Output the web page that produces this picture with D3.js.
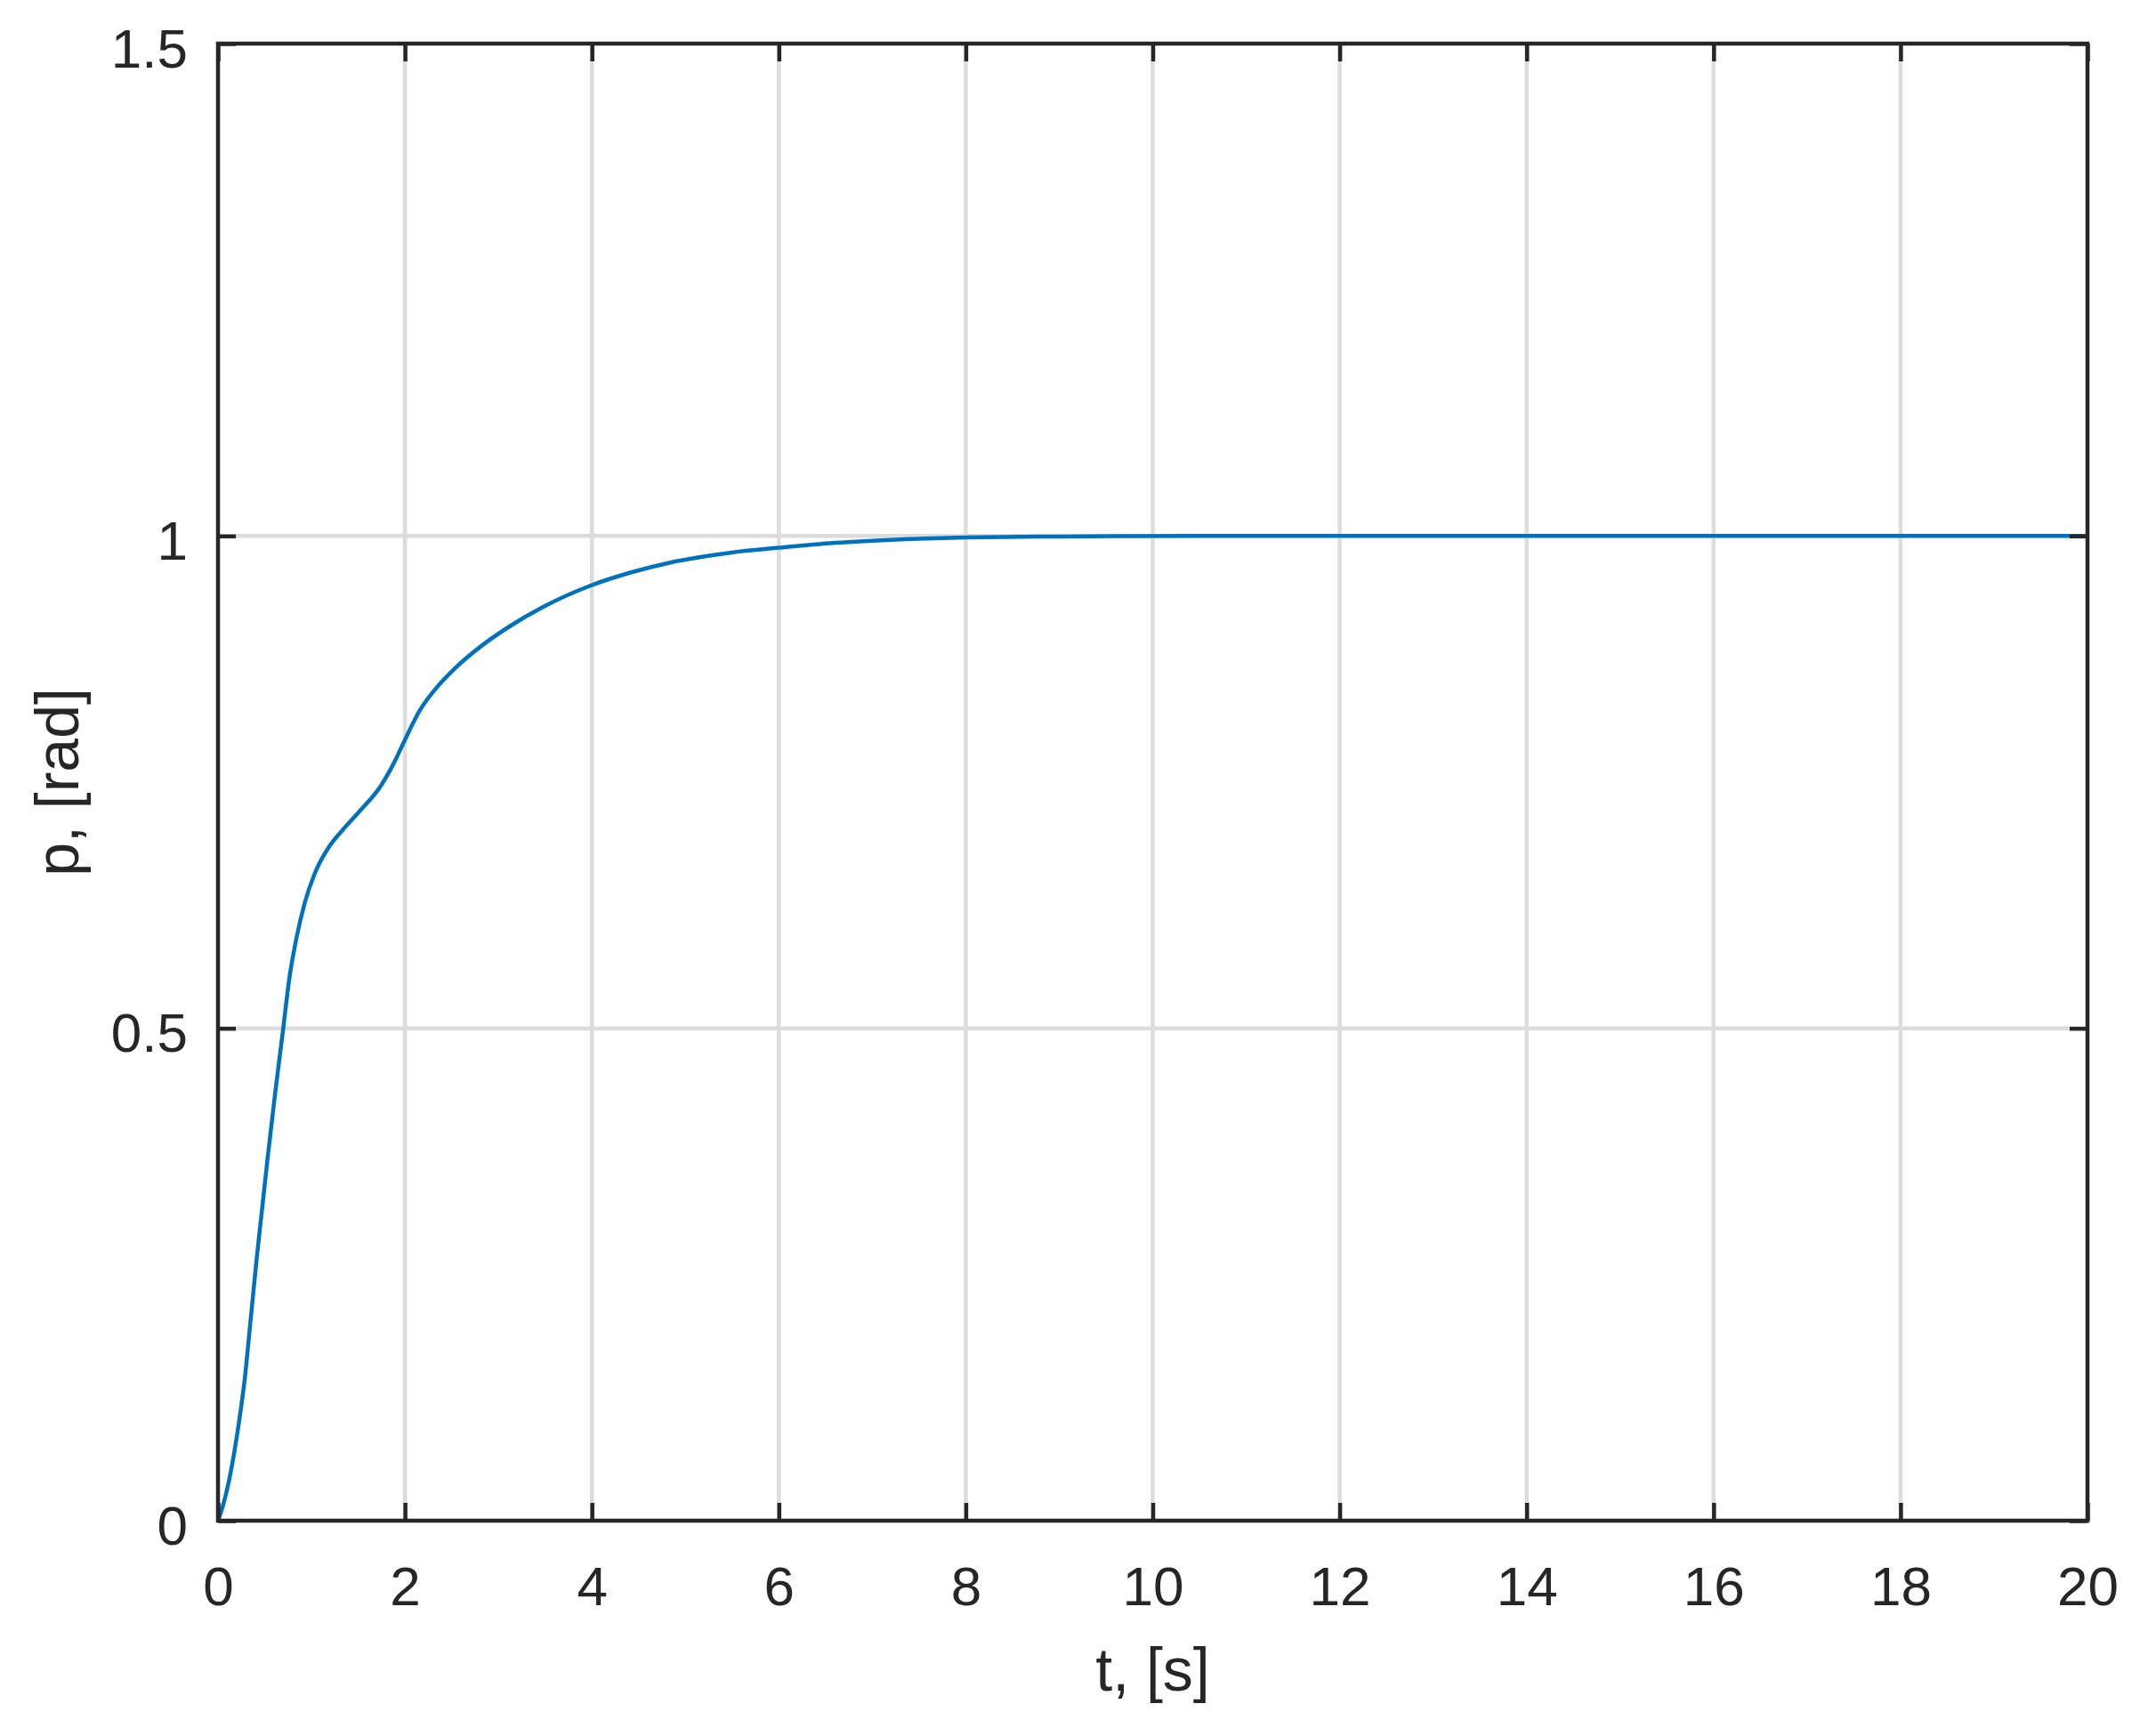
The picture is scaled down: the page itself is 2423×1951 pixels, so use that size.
<!DOCTYPE html>
<html>
<head>
<meta charset="utf-8">
<script src="https://cdn.jsdelivr.net/npm/d3@7"></script>
<style>
  html, body { margin: 0; padding: 0; background: #fff; }
  text { font-family: "Liberation Sans", Arial, sans-serif; fill: #262626; }
</style>
</head>
<body>
<div id="chart"></div>
<script>
const width = 2423;
const height = 1951;

// values
const tValues = [0, 0.03, 0.127, 0.222, 0.286, 0.35, 0.417, 0.533, 0.61, 0.698, 0.762, 0.84, 0.93, 1.03, 1.2, 1.33, 1.52, 1.74, 1.885, 2.0, 2.16, 2.33, 2.54, 2.8, 3.1, 3.48, 3.97, 4.42, 4.84, 5.48, 6.0, 6.6, 7.3, 8.0, 8.8, 9.6, 10.5, 12, 14, 16, 18, 20];
const pValues = [0, 0.008, 0.045, 0.0985, 0.144, 0.205, 0.269, 0.37, 0.433, 0.5, 0.55, 0.592, 0.628, 0.656, 0.686, 0.701, 0.721, 0.746, 0.77, 0.793, 0.823, 0.845, 0.866, 0.887, 0.907, 0.928, 0.949, 0.963, 0.973, 0.983, 0.988, 0.993, 0.9965, 0.9985, 0.9993, 0.9998, 1, 1, 1, 1, 1, 1];

const xTicks = [0, 2, 4, 6, 8, 10, 12, 14, 16, 18, 20];
const yTicks = [0, 0.5, 1, 1.5];
const xLabel = "t, [s]";
const yLabel = "p, [rad]";

const margin = {left: 245, right: 2423 - 2346, top: 49, bottom: 1951 - 1709};
const x = d3.scaleLinear().domain([0, 20]).range([margin.left, width - margin.right]);
const y = d3.scaleLinear().domain([0, 1.5]).range([height - margin.bottom, margin.top]);

const svg = d3.select("#chart")
    .append("svg")
    .attr("width", width)
    .attr("height", height)
    .attr("viewBox", [0, 0, width, height]);

svg.append("rect").attr("width", width).attr("height", height).attr("fill", "#fff");

// grid
const grid = svg.append("g")
    .attr("stroke", "#dcdcdc")
    .attr("stroke-width", 4.5);
grid.selectAll("line.gx")
    .data(xTicks.slice(1, -1))
    .join("line")
    .attr("class", "gx")
    .attr("x1", d => x(d)).attr("x2", d => x(d))
    .attr("y1", y(0)).attr("y2", y(1.5));
grid.selectAll("line.gy")
    .data(yTicks.slice(1, -1))
    .join("line")
    .attr("class", "gy")
    .attr("y1", d => y(d)).attr("y2", d => y(d))
    .attr("x1", x(0)).attr("x2", x(20));

// curve
const line = d3.line()
    .x((d, i) => x(tValues[i]))
    .y(d => y(d))
    .curve(d3.curveMonotoneX);

svg.append("path")
    .datum(pValues)
    .attr("fill", "none")
    .attr("stroke", "#0072BD")
    .attr("stroke-width", 4.5)
    .attr("stroke-linejoin", "round")
    .attr("d", line);

// axes: ticks inside on all four sides, labels outside bottom/left
const tickLen = 20;
const axisColor = "#262626";

const axBottom = svg.append("g")
    .attr("transform", `translate(0,${y(0)})`)
    .call(d3.axisBottom(x).tickValues(xTicks).tickSizeInner(-tickLen).tickSizeOuter(0).tickPadding(tickLen + 31).tickFormat(d3.format("d")));
const axTop = svg.append("g")
    .attr("transform", `translate(0,${y(1.5)})`)
    .call(d3.axisTop(x).tickValues(xTicks).tickSizeInner(-tickLen).tickSizeOuter(0).tickFormat(""));
const axLeft = svg.append("g")
    .attr("transform", `translate(${x(0)},0)`)
    .call(d3.axisLeft(y).tickValues(yTicks).tickSizeInner(-tickLen).tickSizeOuter(0).tickPadding(tickLen + 14).tickFormat(d => d));
const axRight = svg.append("g")
    .attr("transform", `translate(${x(20)},0)`)
    .call(d3.axisRight(y).tickValues(yTicks).tickSizeInner(-tickLen).tickSizeOuter(0).tickFormat(""));

[axBottom, axTop, axLeft, axRight].forEach(g => {
    g.select(".domain").remove();
    g.selectAll(".tick line").attr("stroke", axisColor).attr("stroke-width", 4.5);
    g.selectAll(".tick text")
        .attr("fill", axisColor)
        .style("font-family", '"Liberation Sans", Arial, sans-serif')
        .style("font-size", "62px");
});
axLeft.selectAll(".tick text").attr("dy", "0.42em");

// box
svg.append("rect")
    .attr("x", x(0)).attr("y", y(1.5))
    .attr("width", x(20) - x(0)).attr("height", y(0) - y(1.5))
    .attr("fill", "none")
    .attr("stroke", axisColor)
    .attr("stroke-width", 4.5);

// axis labels
svg.append("text")
    .attr("x", (x(0) + x(20)) / 2)
    .attr("y", 1900)
    .attr("text-anchor", "middle")
    .style("font-size", "68px")
    .text(xLabel);

svg.append("text")
    .attr("transform", `translate(88,${(y(0) + y(1.5)) / 2}) rotate(-90)`)
    .attr("text-anchor", "middle")
    .style("font-size", "68px")
    .text(yLabel);
</script>
</body>
</html>
